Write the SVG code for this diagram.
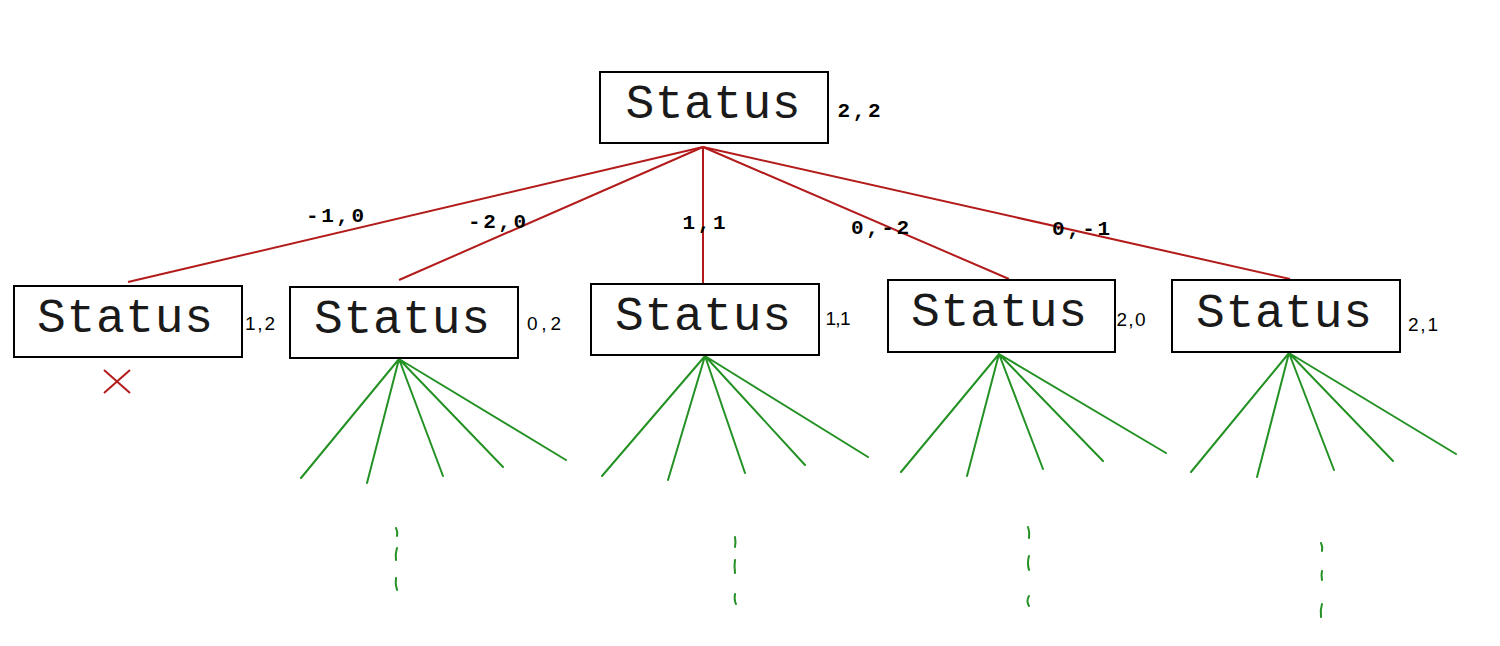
<svg xmlns="http://www.w3.org/2000/svg" width="1500" height="646" viewBox="0 0 1500 646">
<style>
.box{fill:#fff;stroke:#000;stroke-width:2}
.st{font-family:"Liberation Mono","DejaVu Sans Mono",monospace;font-size:48px;fill:#1a1a1a;text-anchor:middle}
.el{font-family:"Liberation Mono","DejaVu Sans Mono",monospace;font-size:21px;font-weight:bold;fill:#000;text-anchor:middle}
.sm{font-family:"Liberation Sans",Arial,sans-serif;font-size:19px;fill:#000;text-anchor:middle}
.red{stroke:#b31b1b;stroke-width:2;fill:none}
.grn{stroke:#249124;stroke-width:2;fill:none;stroke-linecap:round}
</style>
<rect width="1500" height="646" fill="#fff"/>
<g id="connectors">
<g class="red">
<line x1="703" y1="147" x2="128" y2="282"/>
<line x1="703" y1="147" x2="399" y2="280"/>
<line x1="703" y1="147" x2="703" y2="284"/>
<line x1="703" y1="147" x2="1009" y2="279"/>
<line x1="703" y1="147" x2="1290" y2="279"/>
<line x1="104" y1="370" x2="130" y2="393"/>
<line x1="130" y1="370" x2="104" y2="393"/>
</g>
<text class="el" x="335" y="222" textLength="58" lengthAdjust="spacing">-1,0</text>
<text class="el" x="497" y="228" textLength="58" lengthAdjust="spacing">-2,0</text>
<text class="el" x="704" y="229" textLength="43" lengthAdjust="spacing">1,1</text>
<text class="el" x="880" y="234" textLength="58" lengthAdjust="spacing">0,-2</text>
<text class="el" x="1081" y="235" textLength="58" lengthAdjust="spacing">0,-1</text>
<g class="grn">
<path d="M399 359L301 478M399 359L367 483M399 359L443 476M399 359L503 467M399 359L566 460"/>
<path d="M705 356L602 476M705 356L668 480M705 356L745 473M705 356L805 465M705 356L868 457"/>
<path d="M999 354L901 472M999 354L967 476M999 354L1043 469M999 354L1103 461M999 354L1166 453"/>
<path d="M1289 353L1191 472M1289 353L1257 477M1289 353L1334 470M1289 353L1393 461M1289 353L1456 454"/>
<path d="M396 528Q398 532 397 536M397 548Q395 554 396 560M396 578Q395 584 397 590"/>
<path d="M735 537Q736 542 735 547M735 560Q734 566 735 573M735 594Q734 600 736 604"/>
<path d="M1028 527Q1030 532 1029 538M1029 556Q1027 563 1029 570M1029 596Q1026 601 1029 606"/>
<path d="M1321 543Q1323 547 1322 551M1322 571Q1321 575 1322 580M1322 604Q1320 610 1321 617"/>
</g>
</g>
<g id="root">
<rect class="box" x="600" y="72" width="228" height="71"/>
<text class="st" x="713" y="118" textLength="175" lengthAdjust="spacing">Status</text>
<text class="el" x="859" y="117" textLength="43" lengthAdjust="spacing">2,2</text>
</g>
<g id="n1">
<rect class="box" x="14" y="286" width="228" height="71"/>
<text class="st" x="125" y="332" textLength="176" lengthAdjust="spacing">Status</text>
<text class="sm" x="260" y="330" textLength="30" lengthAdjust="spacing">1,2</text>
</g>
<g id="n2">
<rect class="box" x="290" y="287" width="228" height="71"/>
<text class="st" x="402" y="333" textLength="176" lengthAdjust="spacing">Status</text>
<text class="sm" x="544" y="330" textLength="34" lengthAdjust="spacing">0,2</text>
</g>
<g id="n3">
<rect class="box" x="591" y="284" width="228" height="71"/>
<text class="st" x="703" y="330" textLength="176" lengthAdjust="spacing">Status</text>
<text class="sm" x="838" y="325" textLength="25" lengthAdjust="spacing">1,1</text>
</g>
<g id="n4">
<rect class="box" x="888" y="280" width="227" height="72"/>
<text class="st" x="999" y="326" textLength="176" lengthAdjust="spacing">Status</text>
<text class="sm" x="1131" y="326" textLength="29" lengthAdjust="spacing">2,0</text>
</g>
<g id="n5">
<rect class="box" x="1172" y="280" width="228" height="72"/>
<text class="st" x="1284" y="327" textLength="176" lengthAdjust="spacing">Status</text>
<text class="sm" x="1423" y="331" textLength="30" lengthAdjust="spacing">2,1</text>
</g>
</svg>
